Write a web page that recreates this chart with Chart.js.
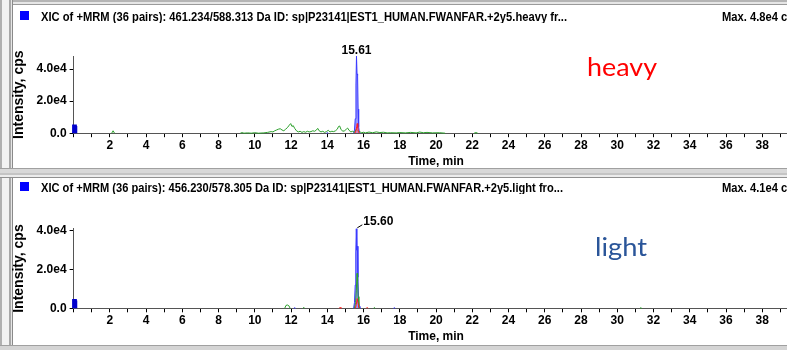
<!DOCTYPE html>
<html><head><meta charset="utf-8">
<script src="https://cdn.jsdelivr.net/npm/chart.js@4.4.0/dist/chart.umd.min.js"></script>
<style>
html,body{margin:0;padding:0;width:787px;height:350px;overflow:hidden;background:#fff;position:relative;}
.abs{position:absolute;}
.title{font:bold 11px "Liberation Sans",Arial,sans-serif;color:#000;white-space:nowrap;transform-origin:0 50%;line-height:12px;}
.note{font-family:Lato,"Open Sans",sans-serif;font-size:25px;line-height:25px;white-space:nowrap;transform-origin:0 50%;}
canvas{position:absolute;left:0;}
</style></head><body>
<!-- window chrome -->
<div class="abs" style="left:0;top:0;width:787px;height:2px;background:#b4b4b4"></div>
<div class="abs" style="left:0;top:2px;width:787px;height:2px;background:#e6e6e6"></div>
<div class="abs" style="left:0;top:4px;width:787px;height:1px;background:#9a9a9a"></div>
<div class="abs" style="left:0;top:0;width:2px;height:350px;background:#b0b0b0"></div>
<div class="abs" style="left:2px;top:0;width:7px;height:350px;background:#f2f2f2"></div>
<div class="abs" style="left:9px;top:0;width:2px;height:350px;background:#a8a8a8"></div>
<div class="abs" style="left:11px;top:0;width:1px;height:350px;background:#e6e6e6"></div>
<div class="abs" style="left:12px;top:0;width:1px;height:350px;background:#8a8a8a"></div>
<div class="abs" style="left:0;top:168px;width:787px;height:1px;background:#a0a0a0"></div>
<div class="abs" style="left:0;top:169px;width:787px;height:4px;background:#d8d8d8"></div>
<div class="abs" style="left:0;top:173px;width:787px;height:2px;background:#c4c4c4"></div>
<div class="abs" style="left:0;top:175px;width:787px;height:2px;background:#ececec"></div>
<div class="abs" style="left:0;top:177px;width:787px;height:1px;background:#909090"></div>
<div class="abs" style="left:0;top:345px;width:787px;height:1px;background:#a0a0a0"></div>
<div class="abs" style="left:0;top:346px;width:787px;height:4px;background:#d4d4d4"></div>

<canvas id="cHeavy" width="800" height="170" style="top:0"></canvas>
<canvas id="cLight" width="800" height="173" style="top:172px"></canvas>

<div class="abs" style="left:20px;top:11px;width:9px;height:9px;background:#0000ff;border:0"></div>
<div class="abs title" id="tHeavy" data-w="526" style="left:41px;top:10px"></div>
<div class="abs title" id="mHeavy" style="left:722px;top:10px"></div>
<div class="abs" style="left:20px;top:182px;width:9px;height:9px;background:#0000ff"></div>
<div class="abs title" id="tLight" data-w="522" style="left:41px;top:181px"></div>
<div class="abs title" id="mLight" style="left:722px;top:181px"></div>

<div class="abs note" id="nHeavy" data-w="70" style="left:587px;top:54px;color:#ff0000">heavy</div>
<div class="abs note" id="nLight" data-w="52" style="left:595px;top:234px;color:#2a5599">light</div>

<script>
// ---------- text ----------
const heavyTitle = 'XIC of +MRM (36 pairs): 461.234/588.313 Da ID: sp|P23141|EST1_HUMAN.FWANFAR.+2y5.heavy fr...';
const lightTitle = 'XIC of +MRM (36 pairs): 456.230/578.305 Da ID: sp|P23141|EST1_HUMAN.FWANFAR.+2y5.light fro...';
const heavyMaxText = 'Max. 4.8e4 cps.';
const lightMaxText = 'Max. 4.1e4 cps.';

// ---------- axes ----------
const xTickValues = [0,1,2,3,4,5,6,7,8,9,10,11,12,13,14,15,16,17,18,19,20,21,22,23,24,25,26,27,28,29,30,31,32,33,34,35,36,37,38,39,40];
const xTickLabelValues = [2,4,6,8,10,12,14,16,18,20,22,24,26,28,30,32,34,36,38];
const yTickValues = [0, 20000, 40000];
const yTickLabels = ['0.0', '2.0e4', '4.0e4'];
const heavyYMax = 48000;
const lightYMax = 41000;

// ---------- heavy panel series (time, min / intensity, cps; null = gap) ----------
const heavyOriginTime = [0, 0, 0.1, 0.12];
const heavyOriginInt  = [0, 4500, 4500, 0];
const heavyBlueTime = [13.95, 14.0, 14.05, 14.06, 15.45, 15.50, 15.54, 15.58, 15.61, 15.64, 15.67, 15.70, 15.73, 15.77, 15.82];
const heavyBlueInt  = [0, 300, 0, null, 0, 2000, 9000, 30000, 48000, 37000, 36000, 15000, 4000, 500, 0];
const heavyRedTime  = [15.52, 15.58, 15.62, 15.65, 15.68, 15.72, 15.76];
const heavyRedInt   = [0, 1500, 4000, 6000, 3500, 1000, 0];
const heavyGreenTime = [2.10, 2.18, 2.26, 2.27,
  9.2, 9.3, 9.4, 9.6, 9.8, 10.0, 10.2, 10.5, 10.7, 10.9, 11.0, 11.1, 11.2, 11.3, 11.4, 11.5, 11.6, 11.7, 11.8, 11.9, 11.98,
  12.05, 12.12, 12.2, 12.3, 12.4, 12.5, 12.6, 12.7, 12.8, 12.9, 13.0, 13.1, 13.2, 13.3, 13.4, 13.47, 13.55, 13.65, 13.75,
  13.85, 13.95, 14.05, 14.15, 14.25, 14.35, 14.45, 14.55, 14.62, 14.68, 14.75, 14.85, 14.95, 15.05, 15.12, 15.2, 15.3,
  15.4, 15.5, 15.6, 15.7, 15.8, 15.9, 16.0, 16.1, 16.3, 16.5, 16.7, 16.9, 17.1, 17.3, 17.5, 17.8, 18.0, 18.3, 18.6, 18.9,
  19.1, 19.3, 19.5, 19.8, 20.2, 20.5, 20.6, 22.1, 22.2, 22.3];
const heavyGreenInt = [0, 1500, 0, null,
  0, 400, 0, 200, 0, 300, 0, 200, 500, 1000, 800, 1500, 2000, 2500, 2800, 2000, 1500, 2500, 3500, 5000, 6000,
  4200, 4700, 3000, 1500, 800, 1200, 500, 1000, 600, 1200, 800, 1000, 1500, 1200, 2000, 3000, 1500, 800, 1200,
  500, 1000, 1800, 800, 1200, 1000, 1500, 2500, 4200, 4500, 2500, 1200, 1500, 2500, 3200, 1800, 800,
  1200, 500, 2500, 1000, 800, 300, 600, 200, 700, 300, 800, 400, 600, 200, 300, 200, 400, 200, 500, 200,
  700, 300, 500, 200, 300, 0, null, 0, 400, 0];

// ---------- light panel series ----------
const lightOriginTime = [0, 0, 0.1, 0.12];
const lightOriginInt  = [0, 4000, 4000, 0];
const lightBlueTime = [12.15, 12.2, 12.25, 12.26, 15.45, 15.50, 15.54, 15.57, 15.60, 15.63, 15.66, 15.69, 15.72, 15.76, 15.80, 15.81, 17.65, 17.7, 17.75];
const lightBlueInt  = [0, 300, 0, null, 0, 3000, 12000, 28000, 41000, 30000, 32000, 16000, 5000, 1000, 0, null, 0, 300, 0];
const lightRedTime  = [14.65, 14.70, 14.75, 14.76, 15.55, 15.60, 15.65, 15.70, 15.75, 15.76, 16.15, 16.20, 16.25];
const lightRedInt   = [0, 500, 0, null, 0, 2000, 5000, 2500, 0, null, 0, 500, 0];
const lightGreenTime = [11.65, 11.72, 11.80, 11.88, 11.95, 11.96, 12.65, 12.70, 12.75, 12.76,
  15.50, 15.56, 15.60, 15.64, 15.67, 15.70, 15.74, 15.78, 15.79, 16.55, 16.60, 16.65, 16.66, 31.25, 31.30, 31.35];
const lightGreenInt = [0, 1500, 1700, 1300, 0, null, 0, 500, 0, null,
  0, 3000, 9000, 18000, 14000, 6000, 1000, 0, null, 0, 400, 0, null, 0, 300, 0];

// ---------- drawing ----------
function pts(t, v) { return t.map((x, i) => ({x: x, y: v[i]})); }

const FONT = {family: '"Liberation Sans", Arial, sans-serif', size: 11, weight: 'bold'};
const TICKFONT = {family: '"Liberation Sans", Arial, sans-serif', size: 12, weight: 'bold'};
const XTITLEFONT = {family: '"Liberation Sans", Arial, sans-serif', size: 12, weight: 'bold'};
const YTITLEFONT = {family: '"Liberation Sans", Arial, sans-serif', size: 14, weight: 'bold'};
Chart.defaults.font = FONT;
Chart.defaults.color = '#000';

function peakPlugin(dsIndex, mode) {
  return {
    id: 'peak' + mode,
    afterDatasetsDraw(chart) {
      const data = chart.data.datasets[dsIndex].data;
      let best = null;
      data.forEach(p => { if (p.y != null && (!best || p.y > best.y)) best = p; });
      const px = chart.scales.x.getPixelForValue(best.x);
      const py = chart.scales.y.getPixelForValue(best.y);
      const ctx = chart.ctx;
      ctx.save();
      ctx.font = 'bold 12px "Liberation Sans", Arial, sans-serif';
      ctx.fillStyle = '#000';
      ctx.textBaseline = 'middle';
      const label = best.x.toFixed(2);
      if (mode === 'above') {
        ctx.textAlign = 'center';
        ctx.fillText(label, px, py - 5.5);
      } else {
        ctx.strokeStyle = '#000';
        ctx.lineWidth = 1;
        ctx.beginPath();
        ctx.moveTo(px + 1, py - 1);
        ctx.lineTo(px + 6, py - 4);
        ctx.stroke();
        ctx.textAlign = 'left';
        ctx.fillText(label, px + 7, py - 7);
      }
      ctx.restore();
    }
  };
}

function makeChart(id, sets, yMax, padTop, xHeight, mode) {
  const datasets = sets.map(s => ({
    data: pts(s.t, s.v),
    borderColor: s.color,
    backgroundColor: s.fill || 'rgba(0,0,0,0)',
    fill: s.fill ? 'origin' : false,
    borderWidth: s.w || 1,
    pointRadius: 0,
    tension: 0,
    spanGaps: false,
    clip: s.clip === undefined ? 1 : s.clip,
    order: s.order
  }));
  return new Chart(document.getElementById(id), {
    type: 'line',
    data: {datasets: datasets},
    options: {
      responsive: false,
      animation: false,
      events: [],
      layout: {padding: {top: padTop, right: 0.4, left: 0, bottom: 0}},
      plugins: {legend: {display: false}, tooltip: {enabled: false}},
      scales: {
        x: {
          type: 'linear', min: 0, max: 40,
          afterBuildTicks: s => { s.ticks = xTickValues.map(v => ({value: v})); },
          afterFit: s => { s.height = xHeight; },
          ticks: {autoSkip: false, maxRotation: 0, minRotation: 0, padding: 1.5, font: TICKFONT,
                  callback: v => xTickLabelValues.includes(v) ? String(v) : ''},
          grid: {drawOnChartArea: false, drawTicks: true, tickLength: 4, tickColor: '#000'},
          border: {display: true, color: '#555', width: 1},
          title: {display: true, text: 'Time, min', color: '#000', font: XTITLEFONT, padding: {top: 0, bottom: 1}}
        },
        y: {
          type: 'linear', min: 0, max: yMax,
          afterBuildTicks: s => { s.ticks = yTickValues.map(v => ({value: v})); },
          afterFit: s => { s.width = 73.6; },
          ticks: {padding: 3, font: TICKFONT, callback: v => yTickLabels[yTickValues.indexOf(v)]},
          grid: {drawOnChartArea: false, drawTicks: true, tickLength: 4, tickColor: '#000'},
          border: {display: true, color: '#555', width: 1},
          title: {display: true, text: 'Intensity, cps', color: '#000', font: YTITLEFONT, padding: {top: 10.8, bottom: 0}}
        }
      }
    },
    plugins: [peakPlugin(0, mode)]
  });
}

const BLUE = '#3a3aff', BLUEFILL = 'rgba(130,130,255,0.85)', RED = '#ff2020', GREEN = '#2ca02c', DARKBLUE = '#0000cc';

makeChart('cHeavy', [
  {t: heavyBlueTime, v: heavyBlueInt, color: BLUE, fill: BLUEFILL, order: 3},
  {t: heavyGreenTime, v: heavyGreenInt, color: GREEN, order: 2},
  {t: heavyRedTime, v: heavyRedInt, color: RED, fill: 'rgba(255,120,150,0.6)', order: 1},
  {t: heavyOriginTime, v: heavyOriginInt, color: DARKBLUE, fill: DARKBLUE, w: 3, clip: false, order: 4}
], heavyYMax, 56.2, 36.8, 'above');

makeChart('cLight', [
  {t: lightBlueTime, v: lightBlueInt, color: BLUE, fill: BLUEFILL, order: 3},
  {t: lightGreenTime, v: lightGreenInt, color: GREEN, order: 2},
  {t: lightRedTime, v: lightRedInt, color: RED, order: 1},
  {t: lightOriginTime, v: lightOriginInt, color: DARKBLUE, fill: DARKBLUE, w: 3, clip: false, order: 4}
], lightYMax, 56.8, 36.7, 'right');

// ---------- header texts ----------
document.getElementById('tHeavy').textContent = heavyTitle;
document.getElementById('tLight').textContent = lightTitle;
document.getElementById('mHeavy').textContent = heavyMaxText;
document.getElementById('mLight').textContent = lightMaxText;
let sx = 1;
['tHeavy', 'tLight', 'nHeavy', 'nLight'].forEach(id => {
  const el = document.getElementById(id);
  const w = el.getBoundingClientRect().width;
  const s = parseFloat(el.dataset.w) / w;
  if (id === 'tHeavy') sx = s;
  el.style.transform = id[0] === 't' ? 'scale(' + s + ',1.15)' : 'scaleX(' + s + ')';
});
['mHeavy', 'mLight'].forEach(id => { document.getElementById(id).style.transform = 'scale(' + sx + ',1.15)'; });
</script>
</body></html>
